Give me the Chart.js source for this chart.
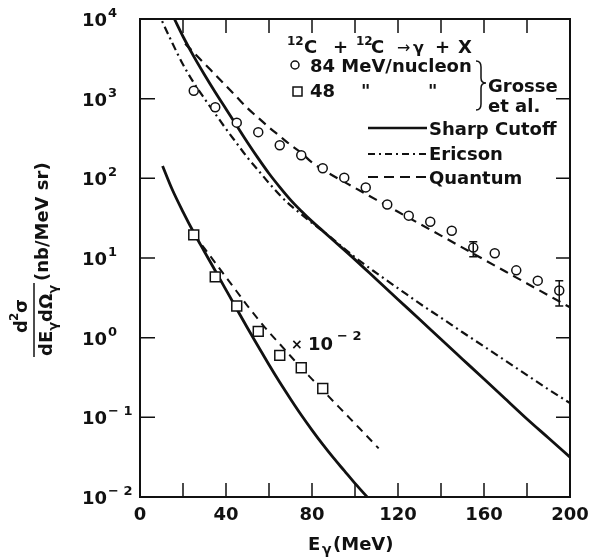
<!DOCTYPE html>
<html>
<head>
<meta charset="utf-8">
<script src="https://cdn.jsdelivr.net/npm/chart.js@4.4.0/dist/chart.umd.min.js"></script>
<style>
  html, body { margin: 0; padding: 0; background: #fff; }
</style>
</head>
<body>
<canvas id="grafico" width="590" height="557"></canvas>
<script>
// ticks
const ticksX = [0, 20, 40, 60, 80, 100, 120, 140, 160, 180, 200];
const rotulosX = [0, 40, 80, 120, 160, 200];
const expoentesY = [-2, -1, 0, 1, 2, 3, 4];

// dados 84 MeV/nucleon (circulos)
const eCirculos = [25, 35, 45, 55, 65, 75, 85, 95, 105, 115, 125, 135, 145, 155, 165, 175, 185, 195];
const sigCirculos = [1260, 780, 500, 380, 260, 195, 134, 102, 77, 47, 34, 28.5, 22, 13.5, 11.5, 7.0, 5.2, 3.9];
const erroX = [155, 195];
const erroMin = [10.4, 2.5];
const erroMax = [16, 5.2];

// dados 48 MeV/nucleon (quadrados, x 10^-2)
const eQuadrados = [25, 35, 45, 55, 65, 75, 85];
const sigQuadrados = [19.5, 5.8, 2.5, 1.2, 0.6, 0.42, 0.23];

// curvas teoricas 84 MeV
const eCorte = [14, 16, 20, 25, 30, 35, 40, 45, 50, 55, 60, 65, 70, 75, 80, 85, 90, 100, 110, 120, 130, 140, 150, 160, 170, 180, 190, 200];
const sigCorte = [12900, 10000, 6030, 3390, 1995, 1202, 741, 457, 282, 178, 115, 77.6, 53.7, 38.9, 28.8, 21.9, 16.6, 9.55, 5.37, 3.02, 1.70, 0.955, 0.537, 0.302, 0.170, 0.0955, 0.0550, 0.0316];

const eEricson = [8, 10, 15, 20, 25, 30, 35, 40, 45, 50, 55, 60, 65, 70, 75, 80, 85, 90, 100, 110, 120, 130, 140, 150, 160, 170, 180, 190, 200];
const sigEricson = [12900, 9770, 5010, 2690, 1585, 1000, 646, 417, 275, 182, 126, 87.1, 61.7, 45.7, 35.5, 27.5, 21.9, 17.0, 10.2, 6.46, 4.17, 2.69, 1.78, 1.17, 0.776, 0.513, 0.339, 0.224, 0.151];

const eQuantum = [21, 25, 30, 35, 40, 45, 50, 55, 60, 65, 70, 75, 80, 85, 90, 100, 110, 120, 130, 140, 150, 160, 170, 180, 190, 200];
const sigQuantum = [4900, 3800, 2750, 2000, 1450, 1050, 759, 575, 437, 339, 263, 209, 158, 129, 107, 75.9, 53.7, 38.0, 26.9, 19.1, 13.5, 9.55, 6.76, 4.79, 3.39, 2.40];

// curvas teoricas 48 MeV
const eCorte48 = [10.5, 15, 20, 25, 30, 35, 40, 45, 50, 55, 60, 65, 70, 75, 80, 85, 90, 95, 100, 106, 110];
const sigCorte48 = [143, 72.4, 38.0, 20.9, 12.0, 6.92, 3.98, 2.29, 1.32, 0.776, 0.457, 0.275, 0.170, 0.107, 0.0692, 0.0457, 0.0309, 0.0214, 0.0148, 0.00977, 0.00741];

const eQuantum48 = [25, 30, 35, 40, 45, 50, 55, 60, 65, 70, 75, 80, 85, 90, 95, 100, 105, 111];
const sigQuantum48 = [20.0, 13.2, 8.71, 5.75, 3.80, 2.51, 1.70, 1.17, 0.832, 0.589, 0.417, 0.302, 0.219, 0.158, 0.115, 0.0832, 0.0603, 0.0407];

const preto = '#111';
const fonte = '"DejaVu Sans"';

function serie(xs, ys) {
  return xs.map((v, i) => ({ x: v, y: ys[i] }));
}

function curva(xs, ys, largura, traco) {
  return {
    data: serie(xs, ys),
    showLine: true,
    pointRadius: 0,
    borderColor: preto,
    borderWidth: largura,
    borderDash: traco,
    cubicInterpolationMode: 'monotone'
  };
}

// moldura e ticks internos
const moldura = {
  id: 'moldura',
  afterDraw(chart) {
    const { ctx, chartArea: a, scales: { x, y } } = chart;
    ctx.save();
    ctx.strokeStyle = preto;
    ctx.lineWidth = 2;
    ctx.strokeRect(a.left, a.top, a.right - a.left, a.bottom - a.top);
    ctx.lineWidth = 1.5;
    ctx.beginPath();
    ticksX.forEach(v => {
      const px = x.getPixelForValue(v);
      ctx.moveTo(px, a.bottom); ctx.lineTo(px, a.bottom - 14);
      ctx.moveTo(px, a.top); ctx.lineTo(px, a.top + 14);
    });
    expoentesY.forEach(e => {
      const py = y.getPixelForValue(Math.pow(10, e));
      ctx.moveTo(a.left, py); ctx.lineTo(a.left + 15, py);
      ctx.moveTo(a.right, py); ctx.lineTo(a.right - 14, py);
    });
    ctx.stroke();
    ctx.restore();
  }
};

// barras de erro
const barrasErro = {
  id: 'barrasErro',
  afterDatasetsDraw(chart) {
    const { ctx, scales: { x, y } } = chart;
    ctx.save();
    ctx.strokeStyle = preto;
    ctx.lineWidth = 1.5;
    erroX.forEach((v, i) => {
      const px = x.getPixelForValue(v);
      const y1 = y.getPixelForValue(erroMax[i]);
      const y2 = y.getPixelForValue(erroMin[i]);
      ctx.beginPath();
      ctx.moveTo(px, y1); ctx.lineTo(px, y2);
      ctx.moveTo(px - 4, y1); ctx.lineTo(px + 4, y1);
      ctx.moveTo(px - 4, y2); ctx.lineTo(px + 4, y2);
      ctx.stroke();
    });
    ctx.restore();
  }
};

// rotulos dos eixos
const rotulos = {
  id: 'rotulos',
  afterDraw(chart) {
    const { ctx, chartArea: a, scales: { x, y } } = chart;
    ctx.save();
    ctx.fillStyle = preto;
    ctx.textBaseline = 'alphabetic';

    ctx.font = 'bold 18px ' + fonte;
    ctx.textAlign = 'center';
    rotulosX.forEach(v => ctx.fillText(String(v), x.getPixelForValue(v), a.bottom + 23));

    ctx.textAlign = 'left';
    expoentesY.forEach(e => {
      const py = y.getPixelForValue(Math.pow(10, e));
      ctx.font = 'bold 18px ' + fonte;
      ctx.fillText('10', 82, py + 7);
      ctx.font = 'bold 13px ' + fonte;
      ctx.fillText(e < 0 ? '\u2212 ' + (-e) : String(e), 108, py - 2);
    });

    // titulo x
    ctx.font = 'bold 18px ' + fonte;
    ctx.fillText('E', 308, 550);
    ctx.font = 'bold 14px ' + fonte;
    ctx.fillText('\u03b3', 322, 554);
    ctx.font = 'bold 18px ' + fonte;
    ctx.fillText('(MeV)', 333, 550);

    // titulo y (rotacionado)
    const H = chart.height;
    ctx.translate(0, H);
    ctx.rotate(-Math.PI / 2);
    ctx.font = 'bold 18px ' + fonte;
    ctx.fillText('d', 224, 27);
    ctx.font = 'bold 12px ' + fonte;
    ctx.fillText('2', 236, 18);
    ctx.font = 'bold 18px ' + fonte;
    ctx.fillText('\u03c3', 244, 27);

    ctx.lineWidth = 1.5;
    ctx.strokeStyle = preto;
    ctx.beginPath();
    ctx.moveTo(200, 34); ctx.lineTo(274, 34);
    ctx.stroke();

    let lx = 201;
    const partes = [['d', 18, 0], ['E', 18, 0], ['\u03b3', 13, 5], ['d', 18, 0], ['\u03a9', 18, 0], ['\u03b3', 13, 5]];
    partes.forEach(([t, tam, desl]) => {
      ctx.font = 'bold ' + tam + 'px ' + fonte;
      ctx.fillText(t, lx, 52 + desl);
      lx += ctx.measureText(t).width;
    });

    ctx.font = 'bold 18px ' + fonte;
    ctx.fillText('(nb/MeV sr)', 276, 48);
    ctx.restore();

    // fator x 10^-2
    ctx.save();
    ctx.fillStyle = preto;
    ctx.font = 'bold 14px ' + fonte;
    ctx.fillText('\u00d7', 291, 349);
    ctx.font = 'bold 18px ' + fonte;
    ctx.fillText('10', 308, 350);
    ctx.font = 'bold 13px ' + fonte;
    ctx.fillText('\u2212 2', 337, 340);
    ctx.restore();
  }
};

// legenda manual
const legenda = {
  id: 'legenda',
  afterDraw(chart) {
    const { ctx } = chart;
    ctx.save();
    ctx.fillStyle = preto;
    ctx.strokeStyle = preto;
    ctx.textBaseline = 'alphabetic';

    const f18 = 'bold 18px ' + fonte;
    const f12 = 'bold 12px ' + fonte;
    ctx.font = f12; ctx.fillText('12', 287, 45);
    ctx.font = f18; ctx.fillText('C', 304, 53);
    ctx.fillText('+', 333, 53);
    ctx.font = f12; ctx.fillText('12', 356, 45);
    ctx.font = f18; ctx.fillText('C', 371, 53);
    ctx.font = '16px ' + fonte; ctx.fillText('\u2192', 397, 53);
    ctx.font = 'bold 16px ' + fonte; ctx.fillText('\u03b3', 413, 53);
    ctx.font = f18; ctx.fillText('+', 435, 53);
    ctx.fillText('X', 458, 53);

    // marcadores
    ctx.lineWidth = 1.5;
    ctx.beginPath();
    ctx.arc(295, 65, 4, 0, Math.PI * 2);
    ctx.stroke();
    ctx.strokeRect(293, 87, 9, 9);

    ctx.font = f18;
    ctx.fillText('84 MeV/nucleon', 310, 72);
    ctx.fillText('48', 310, 97);
    ctx.fillText('"', 361, 97);
    ctx.fillText('"', 428, 97);

    // chave
    ctx.lineWidth = 1.5;
    ctx.beginPath();
    ctx.moveTo(476, 61);
    ctx.quadraticCurveTo(481, 61, 481, 67);
    ctx.lineTo(481, 78);
    ctx.quadraticCurveTo(481, 83, 486, 83);
    ctx.quadraticCurveTo(481, 83, 481, 88);
    ctx.lineTo(481, 104);
    ctx.quadraticCurveTo(481, 110, 476, 110);
    ctx.stroke();
    ctx.fillText('Grosse', 488, 92);
    ctx.fillText('et al.', 488, 112);

    // linhas
    const linhas = [[128, [], 2.6, 'Sharp Cutoff', 135], [154, [7, 4, 2, 4], 2.2, 'Ericson', 160], [177, [10, 6], 2.2, 'Quantum', 184]];
    linhas.forEach(([yy, traco, lw, txt, base]) => {
      ctx.beginPath();
      ctx.setLineDash(traco);
      ctx.lineWidth = lw;
      ctx.moveTo(368, yy); ctx.lineTo(427, yy);
      ctx.stroke();
      ctx.setLineDash([]);
      ctx.fillText(txt, 429, base);
    });
    ctx.restore();
  }
};

const ctx = document.getElementById('grafico').getContext('2d');
new Chart(ctx, {
  type: 'scatter',
  data: {
    datasets: [
      {
        data: serie(eCirculos, sigCirculos),
        pointStyle: 'circle',
        pointRadius: 4.5,
        pointBorderWidth: 1.5,
        pointBorderColor: preto,
        pointBackgroundColor: '#fff'
      },
      {
        data: serie(eQuadrados, sigQuadrados),
        pointStyle: 'rect',
        pointRadius: 7,
        pointBorderWidth: 1.5,
        pointBorderColor: preto,
        pointBackgroundColor: '#fff'
      },
      curva(eCorte, sigCorte, 2.8, []),
      curva(eEricson, sigEricson, 2.2, [8, 4, 2, 4]),
      curva(eQuantum, sigQuantum, 2.2, [9, 6]),
      curva(eCorte48, sigCorte48, 2.8, []),
      curva(eQuantum48, sigQuantum48, 2.0, [8, 6])
    ]
  },
  options: {
    responsive: false,
    animation: false,
    devicePixelRatio: 1,
    layout: { padding: { left: 140, right: 20, top: 19, bottom: 60 } },
    plugins: {
      legend: { display: false },
      tooltip: { enabled: false }
    },
    scales: {
      x: { type: 'linear', min: 0, max: 200, display: false },
      y: { type: 'logarithmic', min: 0.01, max: 10000, display: false }
    }
  },
  plugins: [barrasErro, moldura, rotulos, legenda]
});
</script>
</body>
</html>
